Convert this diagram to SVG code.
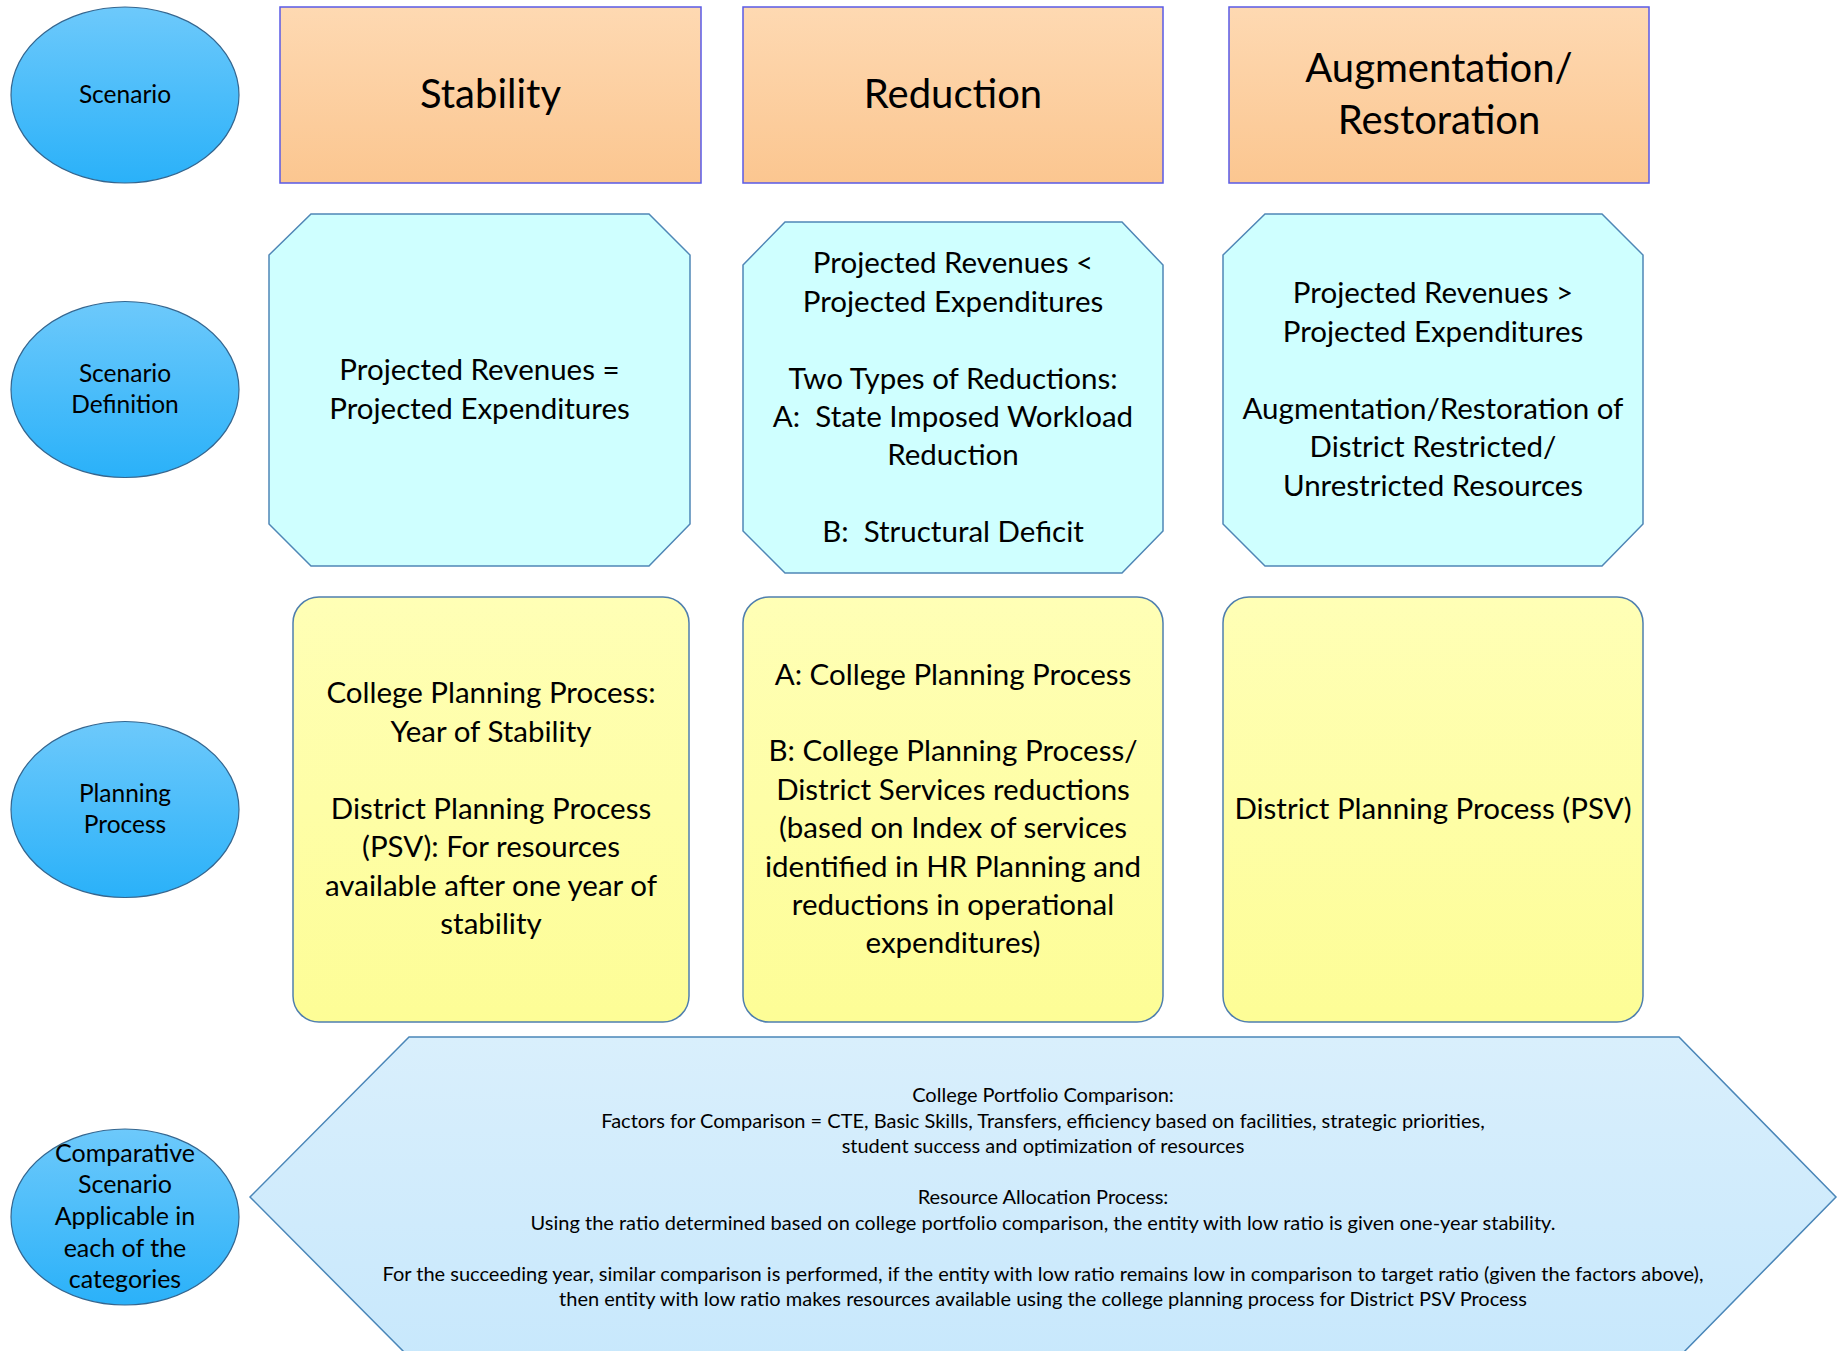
<svg xmlns="http://www.w3.org/2000/svg" width="1844" height="1351" viewBox="0 0 1844 1351">
<defs>
<linearGradient id="gEll" x1="0" y1="0" x2="0" y2="1"><stop offset="0" stop-color="#6DC9FB"/><stop offset="1" stop-color="#2AB1F9"/></linearGradient>
<linearGradient id="gHead" x1="0" y1="0" x2="0" y2="1"><stop offset="0" stop-color="#FED9B2"/><stop offset="1" stop-color="#FBC690"/></linearGradient>
<linearGradient id="gYel" x1="0" y1="0" x2="0" y2="1"><stop offset="0" stop-color="#FFFFB6"/><stop offset="1" stop-color="#FDFD96"/></linearGradient>
<linearGradient id="gHex" x1="0" y1="0" x2="0" y2="1"><stop offset="0" stop-color="#D9EFFC"/><stop offset="1" stop-color="#C8E8FC"/></linearGradient>
<style>
text{font-family:Lato,"Liberation Sans",sans-serif;fill:#000;text-anchor:middle}
.ell{fill:url(#gEll);stroke:#35668F;stroke-width:1.2}
.head{fill:url(#gHead);stroke:#5A5AE6;stroke-width:1.5}
.oct{fill:#CFFFFF;stroke:#4F86B6;stroke-width:1.5}
.yel{fill:url(#gYel);stroke:#4F7FAE;stroke-width:1.5}
.hex{fill:url(#gHex);stroke:#4A86B8;stroke-width:1.5}
.t-ell{font-size:24.5px}
.t-head{font-size:40px}
.t-box{font-size:29.5px}
.t-hex{font-size:20px}
</style>
</defs>
<g id="connectors"/>
<g id="ell-scenario"><ellipse class="ell" cx="125" cy="95" rx="114" ry="88"/><text class="t-ell" x="125" y="103">Scenario</text></g>
<g id="ell-definition"><ellipse class="ell" cx="125" cy="389.5" rx="114" ry="88"/><text class="t-ell" x="125"><tspan x="125" y="382">Scenario</tspan><tspan x="125" y="413">Definition</tspan></text></g>
<g id="ell-planning"><ellipse class="ell" cx="125" cy="809.5" rx="114" ry="88"/><text class="t-ell" x="125"><tspan x="125" y="802">Planning</tspan><tspan x="125" y="833">Process</tspan></text></g>
<g id="ell-comparative"><ellipse class="ell" cx="125" cy="1217" rx="114" ry="88"/><text class="t-ell" x="125" style="font-size:25px"><tspan x="125" y="1162">Comparative</tspan><tspan x="125" y="1193">Scenario</tspan><tspan x="125" y="1225">Applicable in</tspan><tspan x="125" y="1257">each of the</tspan><tspan x="125" y="1288">categories</tspan></text></g>

<g id="head-stability"><rect class="head" x="280" y="7" width="421" height="176"/><text class="t-head" x="490.5" y="108">Stability</text></g>
<g id="head-reduction"><rect class="head" x="743" y="7" width="420" height="176"/><text class="t-head" x="953" y="108">Reduction</text></g>
<g id="head-augmentation"><rect class="head" x="1229" y="7" width="420" height="176"/><text class="t-head"><tspan x="1439" y="82">Augmentation/</tspan><tspan x="1439" y="134">Restoration</tspan></text></g>

<g id="def-stability"><polygon class="oct" points="269,255 311,214 649,214 690,255 690,524 649,566 311,566 269,524"/><text class="t-box"><tspan x="479.5" y="380">Projected Revenues =</tspan><tspan x="479.5" y="418.5">Projected Expenditures</tspan></text></g>
<g id="def-reduction"><polygon class="oct" points="743,265 785,222 1122,222 1163,265 1163,531 1122,573 785,573 743,531"/><text class="t-box"><tspan x="953" y="273">Projected Revenues &lt;</tspan><tspan x="953" y="311.5">Projected Expenditures</tspan><tspan x="953" y="388.5">Two Types of Reductions:</tspan><tspan x="953" y="427" xml:space="preserve">A:  State Imposed Workload</tspan><tspan x="953" y="465">Reduction</tspan><tspan x="953" y="542" xml:space="preserve">B:  Structural Deficit</tspan></text></g>
<g id="def-augmentation"><polygon class="oct" points="1223,255 1265,214 1602,214 1643,255 1643,524 1602,566 1265,566 1223,524"/><text class="t-box"><tspan x="1433" y="303">Projected Revenues &gt;</tspan><tspan x="1433" y="341.5">Projected Expenditures</tspan><tspan x="1433" y="418.5">Augmentation/Restoration of</tspan><tspan x="1433" y="457">District Restricted/</tspan><tspan x="1433" y="495.5">Unrestricted Resources</tspan></text></g>

<g id="plan-stability"><rect class="yel" x="293" y="597" width="396" height="425" rx="26" ry="26"/><text class="t-box"><tspan x="491" y="703">College Planning Process:</tspan><tspan x="491" y="741.5">Year of Stability</tspan><tspan x="491" y="818.5">District Planning Process</tspan><tspan x="491" y="857">(PSV): For resources</tspan><tspan x="491" y="895.5">available after one year of</tspan><tspan x="491" y="934">stability</tspan></text></g>
<g id="plan-reduction"><rect class="yel" x="743" y="597" width="420" height="425" rx="26" ry="26"/><text class="t-box"><tspan x="953" y="684.5">A: College Planning Process</tspan><tspan x="953" y="761">B: College Planning Process/</tspan><tspan x="953" y="799.5">District Services reductions</tspan><tspan x="953" y="838">(based on Index of services</tspan><tspan x="953" y="876.5">identified in HR Planning and</tspan><tspan x="953" y="915">reductions in operational</tspan><tspan x="953" y="953">expenditures)</tspan></text></g>
<g id="plan-augmentation"><rect class="yel" x="1223" y="597" width="420" height="425" rx="26" ry="26"/><text class="t-box" x="1433" y="818.5">District Planning Process (PSV)</text></g>

<g id="comparison"><polygon class="hex" points="250,1197 409,1037 1679,1037 1836,1197 1679,1357 409,1357"/><text class="t-hex"><tspan x="1043" y="1102">College Portfolio Comparison:</tspan><tspan x="1043" y="1127.5">Factors for Comparison = CTE, Basic Skills, Transfers, efficiency based on facilities, strategic priorities,</tspan><tspan x="1043" y="1153">student success and optimization of resources</tspan><tspan x="1043" y="1204">Resource Allocation Process:</tspan><tspan x="1043" y="1229.5">Using the ratio determined based on college portfolio comparison, the entity with low ratio is given one-year stability.</tspan><tspan x="1043" y="1280.5">For the succeeding year, similar comparison is performed, if the entity with low ratio remains low in comparison to target ratio (given the factors above),</tspan><tspan x="1043" y="1306">then entity with low ratio makes resources available using the college planning process for District PSV Process</tspan></text></g>
</svg>
